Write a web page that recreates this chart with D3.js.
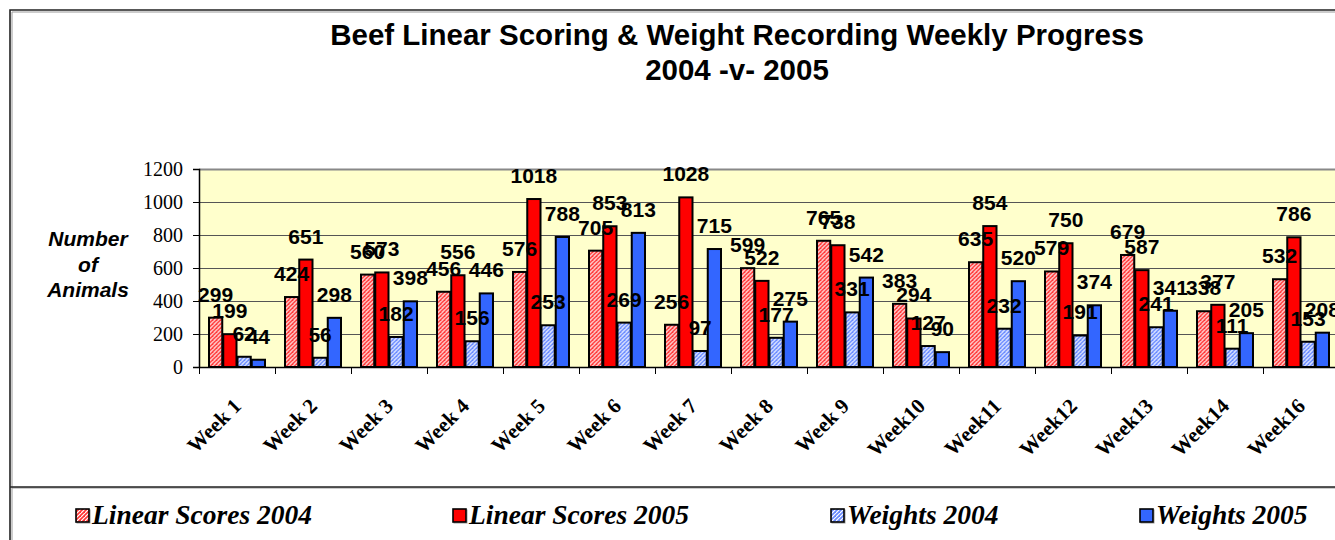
<!DOCTYPE html>
<html>
<head>
<meta charset="utf-8">
<script src="https://cdnjs.cloudflare.com/ajax/libs/d3/7.8.5/d3.min.js"></script>
<style>
    body { margin: 0; background: #fff; }
    svg { display: block; }
</style>
</head>
<body>
<div id="chart"></div>
<script>

//chart data
var weeks = ["Week 1", "Week 2", "Week 3", "Week 4", "Week 5", "Week 6", "Week 7", "Week 8",
    "Week 9", "Week10", "Week11", "Week12", "Week13", "Week14", "Week16"];
var linear2004 = [299, 424, 560, 456, 576, 705, 256, 599, 765, 383, 635, 579, 679, 338, 532];
var linear2005 = [199, 651, 573, 556, 1018, 853, 1028, 522, 738, 294, 854, 750, 587, 377, 786];
var weights2004 = [62, 56, 182, 156, 253, 269, 97, 177, 331, 127, 232, 191, 241, 111, 153];
var weights2005 = [44, 298, 398, 446, 788, 813, 715, 275, 542, 90, 520, 374, 341, 205, 208];
var yTicks = [0, 200, 400, 600, 800, 1000, 1200];

var seriesNames = ["Linear Scores 2004", "Linear Scores 2005", "Weights 2004", "Weights 2005"];
var seriesValues = [linear2004, linear2005, weights2004, weights2005];
var seriesFills = ["url(#hatchRed)", "#FF0000", "url(#hatchBlue)", "#3366FF"];

//Width and height
var w = 1335;
var h = 540;

//plot area
var plotLeft = 199;
var plotTop = 169;
var plotBottom = 367;
var step = 76;

var SANS = "'Liberation Sans', Arial, sans-serif";
var SERIF = "'Liberation Serif', 'Times New Roman', serif";

var svg = d3.select("#chart")
    .append("svg")
    .attr("width", w)
    .attr("height", h);

//fill patterns for the 2004 series
var defs = svg.append("defs");
function addHatch(id, colour) {
    var p = defs.append("pattern")
        .attr("id", id)
        .attr("width", 4)
        .attr("height", 4)
        .attr("patternUnits", "userSpaceOnUse");
    p.append("rect").attr("width", 4).attr("height", 4).attr("fill", "#fff");
    p.append("path")
        .attr("d", "M0,4 L4,0 M-1,1 L1,-1 M3,5 L5,3")
        .attr("stroke", colour)
        .attr("stroke-width", 1.6);
    p.append("rect").attr("x", 0).attr("y", 0).attr("width", 1).attr("height", 1).attr("fill", colour);
}
addHatch("hatchRed", "#FF3333");
addHatch("hatchBlue", "#6688FF");

//chart border + legend separator
svg.append("path")
    .attr("d", "M11,540 L11,11 L1340,11 M11,487 L1340,487")
    .attr("fill", "none")
    .attr("stroke", "#999")
    .attr("stroke-width", 1)
    .attr("transform", "translate(1,1)");
svg.append("path")
    .attr("d", "M10,540 L10,10 L1340,10 M10,487 L1340,487")
    .attr("fill", "none")
    .attr("stroke", "#222")
    .attr("stroke-width", 1.6);

//scales
var x0 = d3.scaleBand()
    .domain(weeks)
    .range([plotLeft, plotLeft + step * weeks.length])
    .paddingInner(0.25)
    .paddingOuter(0.125);

var x1 = d3.scaleBand()
    .domain(d3.range(seriesNames.length))
    .range([0, x0.bandwidth()]);

var y = d3.scaleLinear()
    .domain([0, 1200])
    .range([plotBottom, plotTop]);

//plot background
svg.append("rect")
    .attr("x", plotLeft)
    .attr("y", plotTop)
    .attr("width", w - plotLeft + 10)
    .attr("height", plotBottom - plotTop)
    .attr("fill", "#FFFFCC");

//gridlines
svg.append("g")
    .selectAll("line")
    .data(yTicks.slice(1))
    .enter()
    .append("line")
    .attr("x1", plotLeft)
    .attr("x2", w + 10)
    .attr("y1", function (d) { return y(d) + 0.5; })
    .attr("y2", function (d) { return y(d) + 0.5; })
    .attr("stroke", function (d) { return d === 1200 ? "#888" : "#555"; })
    .attr("stroke-width", function (d) { return d === 1200 ? 2 : 1; });

//y axis
var yAxis = svg.append("g")
    .attr("transform", "translate(" + plotLeft + ",0)")
    .call(d3.axisLeft(y).tickValues(yTicks).tickFormat(d3.format("d")).tickSize(6).tickPadding(10));
yAxis.select(".domain").attr("stroke", "#000").attr("stroke-width", 1.5);
yAxis.selectAll(".tick line").attr("stroke", "#000");
yAxis.selectAll(".tick text")
    .attr("font-family", SERIF)
    .attr("font-size", 20)
    .attr("fill", "#000");

//x axis: ticks between categories
var xTickPos = d3.range(weeks.length + 1).map(function (i) { return plotLeft + i * step; });
svg.append("g")
    .selectAll("line")
    .data(xTickPos)
    .enter()
    .append("line")
    .attr("x1", function (d) { return d + 0.5; })
    .attr("x2", function (d) { return d + 0.5; })
    .attr("y1", plotBottom)
    .attr("y2", plotBottom + 7)
    .attr("stroke", "#000");
svg.append("line")
    .attr("x1", plotLeft)
    .attr("x2", w + 10)
    .attr("y1", plotBottom + 0.5)
    .attr("y2", plotBottom + 0.5)
    .attr("stroke", "#000")
    .attr("stroke-width", 1.5);

//category labels
svg.append("g")
    .selectAll("text")
    .data(weeks)
    .enter()
    .append("text")
    .text(function (d) { return d; })
    .attr("transform", function (d) {
        return "translate(" + (x0(d) + x0.bandwidth() / 2 - 5) + "," + (plotBottom + 30) + ") rotate(-45)";
    })
    .attr("text-anchor", "end")
    .attr("dy", "0.7em")
    .attr("font-family", SERIF)
    .attr("font-weight", "bold")
    .attr("font-size", 21)
    .attr("fill", "#000");

//bars
var groups = svg.append("g")
    .selectAll("g")
    .data(weeks)
    .enter()
    .append("g")
    .attr("transform", function (d) { return "translate(" + x0(d) + ",0)"; });

groups.selectAll("rect")
    .data(function (d, i) {
        return seriesValues.map(function (s, k) { return { k: k, v: s[i] }; });
    })
    .enter()
    .append("rect")
    .attr("x", function (d) { return x1(d.k) + 0.5; })
    .attr("y", function (d) { return y(d.v); })
    .attr("width", x1.bandwidth() - 1)
    .attr("height", function (d) { return plotBottom - y(d.v); })
    .attr("fill", function (d) { return seriesFills[d.k]; })
    .attr("stroke", "#000")
    .attr("stroke-width", 2);

//value labels
groups.selectAll("text")
    .data(function (d, i) {
        return seriesValues.map(function (s, k) { return { k: k, v: s[i] }; });
    })
    .enter()
    .append("text")
    .text(function (d) { return d.v; })
    .attr("x", function (d) { return x1(d.k) + x1.bandwidth() / 2; })
    .attr("y", function (d) { return y(d.v) - 16; })
    .attr("text-anchor", "middle")
    .attr("font-family", SANS)
    .attr("font-weight", "bold")
    .attr("font-size", 21)
    .attr("fill", "#000");

//title
var title = svg.append("text")
    .attr("x", 737)
    .attr("y", 45)
    .attr("text-anchor", "middle")
    .attr("font-family", SANS)
    .attr("font-weight", "bold")
    .attr("font-size", 29.5)
    .attr("fill", "#000");
title.append("tspan").attr("x", 737).text("Beef Linear Scoring & Weight Recording Weekly Progress");
title.append("tspan").attr("x", 737).attr("dy", 35).text("2004 -v- 2005");

//y axis title
var yTitle = svg.append("text")
    .attr("x", 88)
    .attr("y", 246)
    .attr("text-anchor", "middle")
    .attr("font-family", SANS)
    .attr("font-weight", "bold")
    .attr("font-style", "italic")
    .attr("font-size", 21)
    .attr("fill", "#000");
["Number", "of", "Animals"].forEach(function (t, i) {
    yTitle.append("tspan").attr("x", 88).attr("dy", i === 0 ? 0 : 25.5).text(t);
});

//legend
var legendX = [76, 453, 831, 1140];
var legend = svg.append("g")
    .selectAll("g")
    .data(seriesNames)
    .enter()
    .append("g")
    .attr("transform", function (d, i) { return "translate(" + legendX[i] + ",0)"; });

legend.append("rect")
    .attr("x", 1)
    .attr("y", 510)
    .attr("width", 13)
    .attr("height", 13)
    .attr("fill", "none")
    .attr("stroke", "#999")
    .attr("stroke-width", 1);
legend.append("rect")
    .attr("x", 0)
    .attr("y", 509)
    .attr("width", 13)
    .attr("height", 13)
    .attr("fill", function (d, i) { return seriesFills[i]; })
    .attr("stroke", "#000")
    .attr("stroke-width", 1.6);
legend.append("text")
    .text(function (d) { return d; })
    .attr("x", 16)
    .attr("y", 524)
    .attr("font-family", SERIF)
    .attr("font-weight", "bold")
    .attr("font-style", "italic")
    .attr("font-size", 27.5)
    .attr("fill", "#000");

</script>
</body>
</html>
